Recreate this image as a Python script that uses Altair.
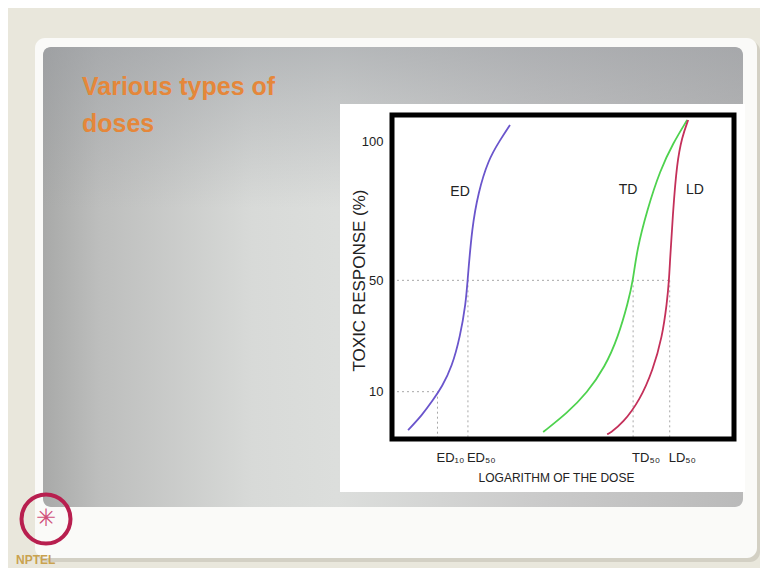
import altair as alt
import pandas as pd

# ---------------- data ----------------
series_names = ["ED", "TD", "LD"]
series_colors = ["#6a55cc", "#4ed24e", "#c4305a"]

ed_x = [0.47, 0.88, 1.20, 1.46, 1.75, 1.99, 2.16, 2.21, 2.34, 2.52, 2.81, 3.16, 3.45]
ed_y = [-3.8, 1.6, 7.0, 11.7, 18.9, 29.6, 41.9, 50.1, 69.1, 81.4, 93.2, 100.4, 105.8]

td_x = [4.42, 5.12, 5.70, 6.23, 6.61, 6.90, 7.05, 7.16, 7.46, 7.84, 8.22, 8.63]
td_y = [-4.5, 2.3, 9.5, 18.9, 29.6, 41.9, 50.1, 60.9, 75.3, 89.6, 99.3, 107.6]

ld_x = [6.29, 6.37, 6.75, 7.25, 7.63, 7.90, 8.04, 8.10, 8.13, 8.22, 8.33, 8.48, 8.66]
ld_y = [-5.3, -4.9, -1.3, 7.0, 17.8, 29.6, 41.9, 50.1, 57.3, 75.3, 92.1, 101.5, 107.6]

curve_label_x = [1.99, 6.90, 8.86]
curve_label_y = [81.7, 82.4, 82.4]

dose_labels = ["ED\u2081\u2080", "ED\u2085\u2080", "TD\u2085\u2080", "LD\u2085\u2080"]
dose_x = [1.33, 2.22, 7.05, 8.12]
dose_y = [10, 50, 50, 50]

y_ticks = [10, 50, 100]
x_domain = [0, 10]
y_domain = [-7, 109.4]

title_lines = ["Various types of", "doses"]

# ---------------- tables ----------------
curves = pd.concat([
    pd.DataFrame({"series": "ED", "x": ed_x, "y": ed_y, "o": range(len(ed_x))}),
    pd.DataFrame({"series": "TD", "x": td_x, "y": td_y, "o": range(len(td_x))}),
    pd.DataFrame({"series": "LD", "x": ld_x, "y": ld_y, "o": range(len(ld_x))}),
])
curve_labels = pd.DataFrame({"series": series_names, "x": curve_label_x, "y": curve_label_y})
doses = pd.DataFrame({"label": dose_labels, "x": dose_x, "y": dose_y,
                      "ybot": [y_domain[0]] * len(dose_x)})
hlines = pd.DataFrame({"x": [x_domain[0], x_domain[0]], "x2": [dose_x[0], dose_x[3]],
                       "y": [dose_y[0], dose_y[3]]})
one = pd.DataFrame({"a": [0]})

xs = alt.Scale(domain=x_domain, nice=False, zero=False)
ys = alt.Scale(domain=y_domain, nice=False, zero=False)
FONT = "Liberation Sans, Arial, sans-serif"

# ---------------- slide decoration ----------------
card_shadow = alt.Chart(one).mark_rect(fill="#d3d0c4", cornerRadius=10).encode(
    x=alt.value(-355), x2=alt.value(368), y=alt.value(-74), y2=alt.value(447))
card = alt.Chart(one).mark_rect(fill="#fafaf8", cornerRadius=10).encode(
    x=alt.value(-357), x2=alt.value(365), y=alt.value(-77), y2=alt.value(443))
panel = alt.Chart(one).mark_rect(
    cornerRadius=8,
    fill=alt.LinearGradient(
        gradient="linear",
        stops=[alt.GradientStop(color="#a8a9a8", offset=0),
               alt.GradientStop(color="#bdbebd", offset=0.08),
               alt.GradientStop(color="#d8dad8", offset=0.3),
               alt.GradientStop(color="#dcdedc", offset=0.42),
               alt.GradientStop(color="#cbcbcb", offset=0.7),
               alt.GradientStop(color="#bababa", offset=1)],
        x1=0, y1=0, x2=1, y2=0),
).encode(x=alt.value(-349), x2=alt.value(351), y=alt.value(-68), y2=alt.value(392))
panel_top = alt.Chart(one).mark_rect(
    cornerRadius=8,
    fill=alt.LinearGradient(
        gradient="linear",
        stops=[alt.GradientStop(color="rgba(150,153,158,0.55)", offset=0),
               alt.GradientStop(color="rgba(150,153,158,0.35)", offset=0.12),
               alt.GradientStop(color="rgba(150,153,158,0)", offset=0.35)],
        x1=0, y1=0, x2=0, y2=1),
).encode(x=alt.value(-349), x2=alt.value(351), y=alt.value(-68), y2=alt.value(392))
chart_bg = alt.Chart(one).mark_rect(fill="#ffffff").encode(
    x=alt.value(-52), x2=alt.value(353), y=alt.value(-11), y2=alt.value(377))

slide_title = alt.Chart(one).mark_text(
    text=title_lines, align="left", baseline="alphabetic", font=FONT,
    fontWeight="bold", fontSize=25, lineHeight=37, color="#e5873a",
).encode(x=alt.value(-310), y=alt.value(-20))

logo_ring = alt.Chart(one).mark_point(
    shape="circle", size=2400, filled=False, stroke="#b81f4f", strokeWidth=4, opacity=1
).encode(x=alt.value(-346), y=alt.value(404))
logo_star = alt.Chart(one).mark_text(text="\u2733", fontSize=24, color="#d0507a").encode(
    x=alt.value(-346), y=alt.value(404))
logo_text = alt.Chart(one).mark_text(
    text="NPTEL", fontSize=12, fontWeight="bold", font=FONT, color="#c9a24f",
    align="left", baseline="alphabetic").encode(x=alt.value(-376), y=alt.value(449))

# ---------------- chart ----------------
dotted = dict(color="#a8a8a8", strokeDash=[2, 3], strokeWidth=1)
vrules = alt.Chart(doses).mark_rule(**dotted).encode(
    x=alt.X("x:Q", scale=xs), y=alt.Y("y:Q", scale=ys), y2="ybot:Q")
hrules = alt.Chart(hlines).mark_rule(**dotted).encode(
    x=alt.X("x:Q", scale=xs), x2="x2:Q", y=alt.Y("y:Q", scale=ys))

color = alt.Color("series:N", scale=alt.Scale(domain=series_names, range=series_colors),
                  legend=None)

lines = alt.Chart(curves).mark_line(strokeWidth=1.8, interpolate="basis").encode(
    x=alt.X("x:Q", scale=xs,
            axis=alt.Axis(labels=False, ticks=False, domain=False, grid=False, zindex=1,
                          title="LOGARITHM OF THE DOSE", titleFont=FONT,
                          titleFontSize=12, titleFontWeight="normal", titleColor="#222",
                          titleX=164, titleY=33, titleBaseline="top")),
    y=alt.Y("y:Q", scale=ys,
            axis=alt.Axis(values=y_ticks, ticks=False, tickSize=0, domain=False, grid=False,
                          zindex=1, labelFont=FONT, labelFontSize=13, labelColor="#222",
                          labelPadding=9,
                          title="TOXIC RESPONSE (%)", titleFont=FONT,
                          titleFontSize=17, titleFontWeight="normal", titleColor="#222",
                          titleX=-28, titleY=165, titleBaseline="alphabetic",
                          titleAngle=270)),
    color=color,
    order="o:Q",
)

border = alt.Chart(one).mark_rect(fill="transparent", stroke="#000000", strokeWidth=5).encode(
    x=alt.value(0), x2=alt.value(342), y=alt.value(0), y2=alt.value(324))

clabels = alt.Chart(curve_labels).mark_text(
    font=FONT, fontSize=14, color="#222", align="center", baseline="middle"
).encode(x=alt.X("x:Q", scale=xs), y=alt.Y("y:Q", scale=ys), text="series:N")

dlabels = alt.Chart(doses).mark_text(
    font=FONT, fontSize=13, color="#222", align="left", baseline="alphabetic", dx=-1
).encode(x=alt.X("x:Q", scale=xs), y=alt.value(347), text="label:N")

chart = alt.layer(
    card_shadow, card, panel, panel_top, chart_bg, slide_title, logo_ring, logo_star,
    logo_text, vrules, hrules, border, lines, clabels, dlabels,
).properties(
    width=342, height=324,
    padding={"left": 384, "top": 107, "right": 26, "bottom": 129},
    autosize=alt.AutoSizeParams(type="none"),
    background="#e9e7dc",
).configure_view(strokeWidth=0)

chart.save("out.html", embed_options={"renderer": "svg", "actions": False})
